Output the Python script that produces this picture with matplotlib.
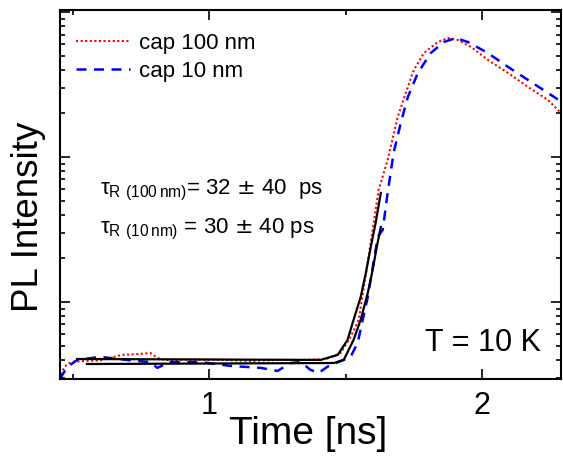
import matplotlib
matplotlib.use("Agg")
import matplotlib.pyplot as plt
from matplotlib.ticker import LogLocator, NullFormatter, MultipleLocator
import numpy as np

plt.rcParams["font.family"] = ["Liberation Sans", "DejaVu Sans"]
plt.rc("xtick", top=True, direction="in")
plt.rc("ytick", right=True, direction="in")

# cap 100 nm (red dotted)
t_100 = [0.452, 0.463, 0.478, 0.496, 0.544, 0.60, 0.68, 0.746, 0.783, 0.809, 0.838,
         0.95, 1.05, 1.15, 1.25, 1.35, 1.43, 1.482, 1.518, 1.548, 1.585, 1.621,
         1.654, 1.691, 1.728, 1.75, 1.787, 1.838, 1.875, 1.912, 1.96, 2.022,
         2.096, 2.169, 2.243, 2.29]
i_100 = [2.94, 3.40, 3.73, 3.86, 3.92, 3.95, 4.31, 4.38, 4.45, 4.11, 3.98,
         4.0, 3.98, 3.92, 3.98, 3.98, 4.05, 4.45, 5.74, 7.52, 21.1, 59.2,
         95.3, 189, 304, 398, 521, 621, 662, 641, 574, 467,
         380, 304, 247, 201]

# cap 10 nm (blue dashed)
t_10 = [0.452, 0.467, 0.489, 0.515, 0.599, 0.728, 0.783, 0.809, 0.857, 0.967,
        1.077, 1.188, 1.25, 1.298, 1.335, 1.371, 1.401, 1.438, 1.474, 1.518,
        1.544, 1.581, 1.618, 1.636, 1.654, 1.676, 1.702, 1.728, 1.765, 1.812,
        1.86, 1.904, 1.949, 2.022, 2.096, 2.169, 2.243, 2.298]
i_10 = [2.94, 3.29, 3.67, 3.98, 4.18, 3.92, 3.85, 3.51, 3.85, 3.85,
        3.62, 3.51, 3.34, 3.79, 3.85, 3.40, 3.24, 3.62, 3.85, 4.18,
        5.21, 10.8, 28.1, 31.4, 56.5, 107, 171, 259, 380, 521,
        621, 662, 621, 521, 418, 340, 276, 236]

# fits (black)
t_fit100 = [0.515, 1.408, 1.471, 1.507, 1.529, 1.555, 1.574, 1.592, 1.610, 1.629]
i_fit100 = [4.04, 3.98, 4.31, 5.47, 7.52, 10.8, 15.8, 23.9, 35.1, 56.5]
t_fit10 = [0.551, 1.456, 1.493, 1.529, 1.555, 1.581, 1.599, 1.614, 1.629]
i_fit10 = [3.73, 3.79, 3.98, 5.47, 7.52, 11.5, 16.6, 23.9, 32.9]

fig = plt.figure(figsize=(5.63, 4.59), dpi=100)
ax = fig.add_axes([0.1066, 0.1743, 0.8898, 0.8035])

ax.plot(t_100, i_100, color="#ff0000", ls=(0, (1, 1.2)), lw=1.5, label="cap 100 nm")
ax.plot(t_10, i_10, color="#0000ff", ls=(0, (4, 3)), lw=1.8, label="cap 10 nm")
ax.plot(t_fit100, i_fit100, color="black", lw=1.6)
ax.plot(t_fit10, i_fit10, color="black", lw=1.6)

ax.set_yscale("log")
ax.set_xlim(0.452, 2.29)
ax.set_ylim(2.94, 1030)
ax.xaxis.set_major_locator(MultipleLocator(1))
ax.xaxis.set_minor_locator(MultipleLocator(0.5))
ax.yaxis.set_major_locator(LogLocator(base=10))
ax.yaxis.set_minor_locator(LogLocator(base=10, subs=np.arange(2, 10)))
ax.yaxis.set_major_formatter(NullFormatter())
ax.yaxis.set_minor_formatter(NullFormatter())
ax.tick_params(which="major", length=7, width=1.2, labelsize=22, pad=9)
ax.tick_params(which="minor", length=3.5, width=1.2)
for s in ax.spines.values():
    s.set_linewidth(1.5)

ax.set_xlabel("Time [ns]", fontsize=28)
ax.set_ylabel("PL Intensity", fontsize=26.5)
ax.xaxis.set_label_coords(0.496, -0.1)
ax.yaxis.set_label_coords(-0.028, 0.44)

ax.text(0.08, 0.50, r"$\mathregular{\tau_{R\ (100\,nm)}}$= 32 $\pm$ 40  ps",
        transform=ax.transAxes, fontsize=16, va="baseline")
ax.text(0.08, 0.395, r"$\mathregular{\tau_{R\ (10\,nm)}}$ = 30 $\pm$ 40 ps",
        transform=ax.transAxes, fontsize=16, va="baseline")
ax.text(0.96, 0.076, "T = 10 K", transform=ax.transAxes, fontsize=22,
        ha="right", va="baseline")

ax.legend(loc="upper left", bbox_to_anchor=(0.014, 0.962), frameon=False,
          fontsize=16, handlelength=2.43, handletextpad=0.4, labelspacing=0.31,
          borderaxespad=0)

plt.savefig("out.png", dpi=100)
